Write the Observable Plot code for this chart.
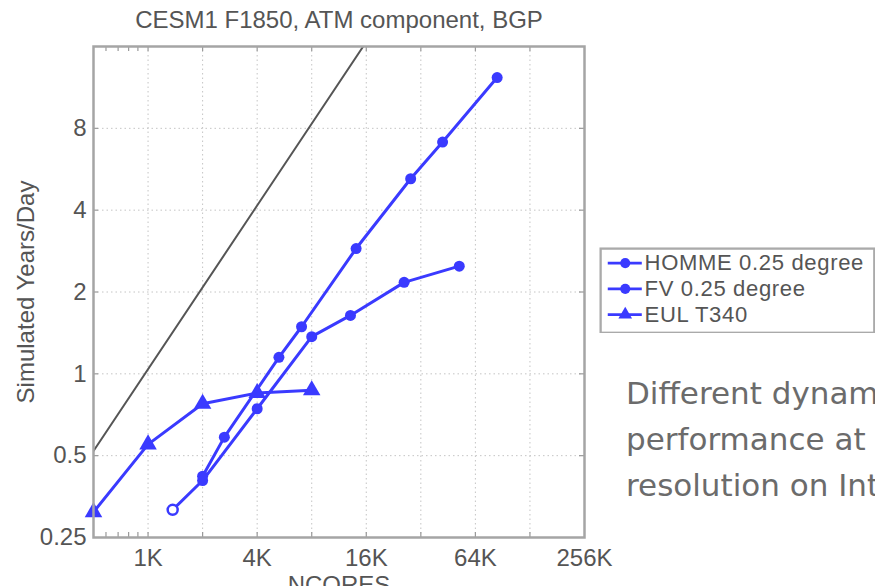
<!DOCTYPE html>
<html><head><meta charset="utf-8">
<script src="https://cdn.jsdelivr.net/npm/d3@7"></script>
<script src="https://cdn.jsdelivr.net/npm/@observablehq/plot@0.6"></script>
<style>
html,body{margin:0;padding:0;background:#fff;width:875px;height:586px;overflow:hidden;}
#wrap{position:relative;width:875px;height:586px;overflow:hidden;background:#fff;}
#chart{position:absolute;left:0;top:0;}
#legend{position:absolute;left:599px;top:247px;}
#legend text{letter-spacing:0.7px;}
#note{position:absolute;left:626px;top:370px;font-family:"DejaVu Sans",sans-serif;font-size:31px;line-height:46px;color:#6b6b6b;white-space:nowrap;}
</style></head><body>
<div id="wrap"><div id="chart"></div><div id="legend"></div><div id="note"></div></div>
<script>
// ---- data ----
const chartTitle = "CESM1 F1850, ATM component, BGP";
const xLabel = "NCORES";
const yLabel = "Simulated Years/Day";
const seriesNames = ["HOMME 0.25 degree", "FV 0.25 degree", "EUL T340"];
const seriesSymbols = ["circle", "circle", "triangle"];

const hommeCores = [2048, 2700, 5400, 7200, 14400, 28800, 43200, 86400];
const hommeSYPD  = [0.42, 0.585, 1.15, 1.49, 2.89, 5.22, 7.12, 12.3];
const fvCores = [1400, 2048, 4096, 8192, 13400, 26500, 53400];
const fvSYPD  = [0.316, 0.405, 0.744, 1.37, 1.64, 2.17, 2.49];
const eulCores = [512, 1024, 2048, 4096, 8192];
const eulSYPD  = [0.31, 0.55, 0.776, 0.85, 0.87];
const idealCores = [512, 15750];
const idealSYPD  = [0.52, 16];

const xTickValues = [1024, 4096, 16384, 65536, 262144];
const xTickLabels = ["1K", "4K", "16K", "64K", "256K"];
const xGridValues = [1024, 2048, 4096, 8192, 16384, 32768, 65536, 131072];
const xMinorValues = [600, 700, 800, 900];
const yTickValues = [0.25, 0.5, 1, 2, 4, 8];
const yTickLabels = ["0.25", "0.5", "1", "2", "4", "8"];
const yGridValues = [0.5, 1, 2, 4, 8];

const noteLines = ["Different dynamical", "performance at", "resolution on Intrepid"];

// ---- build ----
const blue = "#3a3aff";
const font = "'Liberation Sans', Arial, sans-serif";
const toRows = (xs, ys) => xs.map((x, i) => ({x, y: ys[i]}));
const homme = toRows(hommeCores, hommeSYPD);
const fv = toRows(fvCores, fvSYPD);
const eul = toRows(eulCores, eulSYPD);
const ideal = toRows(idealCores, idealSYPD);

const W = 620, H = 586, mL = 93, mR = 36, mT = 46, mB = 49;
const fw = W - mL - mR, fh = H - mT - mB;
const tickLen = 5;
const gridStyle = {stroke: "#c4c4c4", strokeOpacity: 1, strokeDasharray: "1.5,3", strokeWidth: 1};
const tickStyle = {stroke: "#999", strokeWidth: 1.2};

const chart = Plot.plot({
  width: W, height: H,
  marginLeft: mL, marginRight: mR, marginTop: mT, marginBottom: mB,
  style: {fontFamily: font, fontSize: "24px", color: "#555", background: "white", overflow: "visible"},
  x: {type: "log", base: 2, domain: [512, 262144]},
  y: {type: "log", base: 2, domain: [0.25, 16]},
  marks: [
    Plot.gridX(xGridValues, gridStyle),
    Plot.gridY(yGridValues, gridStyle),
    Plot.tickX(xGridValues.concat(xMinorValues), {x: d => d, insetTop: fh - tickLen, ...tickStyle}),
    Plot.tickX(xGridValues.concat(xMinorValues), {x: d => d, insetBottom: fh - tickLen, ...tickStyle}),
    Plot.tickY(yGridValues, {y: d => d, insetRight: fw - tickLen, ...tickStyle}),
    Plot.tickY(yGridValues, {y: d => d, insetLeft: fw - tickLen, ...tickStyle}),
    Plot.axisX(xTickValues, {tickSize: 0, tickPadding: 11, tickFormat: d => xTickLabels[xTickValues.indexOf(d)], label: null}),
    Plot.axisY(yTickValues, {tickSize: 0, tickPadding: 7, tickFormat: d => yTickLabels[yTickValues.indexOf(d)],
      label: yLabel, labelAnchor: "center", labelOffset: 77, labelArrow: "none"}),
    Plot.text([xLabel], {text: d => d, frameAnchor: "bottom", dy: 38, lineAnchor: "top", fontSize: 24}),
    Plot.text([chartTitle], {text: d => d, frameAnchor: "top", dy: -26, lineAnchor: "middle", fontSize: 24}),
    Plot.line(ideal, {x: "x", y: "y", stroke: "#555", strokeWidth: 2, clip: true}),
    Plot.line(eul, {x: "x", y: "y", stroke: blue, strokeWidth: 3}),
    Plot.dot(eul, {x: "x", y: "y", symbol: "triangle", r: 6.5, fill: blue}),
    Plot.line(fv, {x: "x", y: "y", stroke: blue, strokeWidth: 3}),
    Plot.dot(fv.slice(1), {x: "x", y: "y", r: 5.5, fill: blue}),
    Plot.dot(fv.slice(0, 1), {x: "x", y: "y", r: 5, fill: "white", stroke: blue, strokeWidth: 2.5}),
    Plot.line(homme, {x: "x", y: "y", stroke: blue, strokeWidth: 3}),
    Plot.dot(homme, {x: "x", y: "y", r: 5.5, fill: blue}),
    Plot.frame({stroke: "#a5a5a5", strokeWidth: 2.5})
  ]
});
document.getElementById("chart").append(chart);

const legendRows = seriesNames.map((name, i) => ({name, symbol: seriesSymbols[i]}));
const legend = Plot.plot({
  width: 300, height: 94, margin: 0,
  style: {fontFamily: font, fontSize: "24px", color: "#555", background: "white"},
  x: {domain: [0, 300], range: [0, 300], axis: null},
  y: {type: "point", domain: seriesNames, range: [16, 73], padding: 0, axis: null},
  marks: [
    Plot.frame({stroke: "#aaa", strokeWidth: 2.5, inset: 1.25}),
    Plot.link(legendRows, {x1: 9, x2: 46, y1: "name", y2: "name", stroke: blue, strokeWidth: 3}),
    Plot.dot(legendRows, {x: 28, y: "name", symbol: d => d.symbol, r: 5.5, fill: blue}),
    Plot.text(legendRows, {x: 49, y: "name", text: "name", textAnchor: "start", fontSize: 24, fill: "#555"})
  ]
});
document.getElementById("legend").append(legend);

const note = document.getElementById("note");
noteLines.forEach(t => { const d = document.createElement("div"); d.textContent = t; note.append(d); });
</script>
</body></html>
